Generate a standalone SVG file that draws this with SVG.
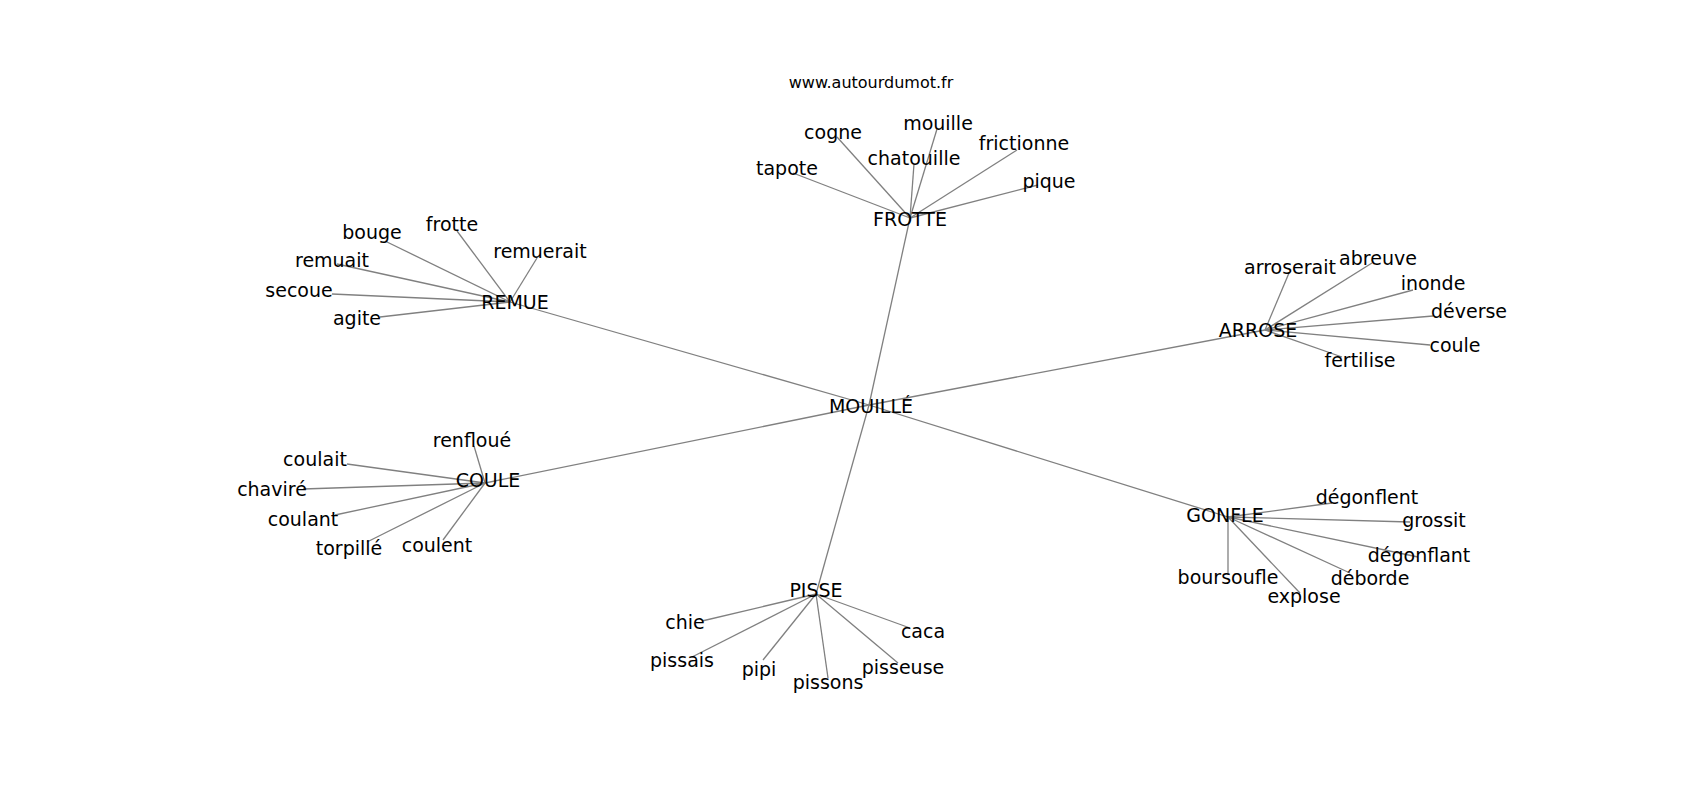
<svg xmlns="http://www.w3.org/2000/svg" width="1700" height="800" viewBox="0 0 1700 800">
<style>
text{font-family:"DejaVu Sans",sans-serif;font-size:19px;fill:#000;text-anchor:middle}
.e line{stroke:#808080;stroke-width:1.3;fill:none}
.t{font-size:16px}
</style>
<rect width="1700" height="800" fill="#fff"/>
<text class="t" x="871" y="88">www.autourdumot.fr</text>
<g class="e" id="edges">
<line x1="910" y1="218" x2="869" y2="405"/>
<line x1="869" y1="405" x2="816" y2="594"/>
<line x1="510" y1="302" x2="869" y2="405"/>
<line x1="1265" y1="330" x2="869" y2="405"/>
<line x1="485" y1="483" x2="869" y2="405"/>
<line x1="1228" y1="517" x2="869" y2="405"/>
<line x1="910" y1="218" x2="793" y2="173"/>
<line x1="910" y1="218" x2="837" y2="137"/>
<line x1="910" y1="218" x2="937" y2="129"/>
<line x1="910" y1="218" x2="914" y2="164"/>
<line x1="910" y1="218" x2="1017" y2="150"/>
<line x1="910" y1="218" x2="1038" y2="185"/>
<line x1="510" y1="302" x2="385" y2="241"/>
<line x1="510" y1="302" x2="457" y2="231"/>
<line x1="510" y1="302" x2="537" y2="258"/>
<line x1="510" y1="302" x2="337" y2="264"/>
<line x1="510" y1="302" x2="332" y2="294"/>
<line x1="510" y1="302" x2="380" y2="317"/>
<line x1="1265" y1="330" x2="1289" y2="273"/>
<line x1="1265" y1="330" x2="1372" y2="263"/>
<line x1="1265" y1="330" x2="1413" y2="290"/>
<line x1="1265" y1="330" x2="1433" y2="316"/>
<line x1="1265" y1="330" x2="1430" y2="345"/>
<line x1="1265" y1="330" x2="1342" y2="357"/>
<line x1="485" y1="483" x2="474" y2="446"/>
<line x1="485" y1="483" x2="347" y2="464"/>
<line x1="485" y1="483" x2="303" y2="489"/>
<line x1="485" y1="483" x2="335" y2="515"/>
<line x1="485" y1="483" x2="367" y2="542"/>
<line x1="485" y1="483" x2="443" y2="540"/>
<line x1="1228" y1="517" x2="1332" y2="503"/>
<line x1="1228" y1="517" x2="1410" y2="522"/>
<line x1="1228" y1="517" x2="1418" y2="557"/>
<line x1="1228" y1="517" x2="1350" y2="573"/>
<line x1="1228" y1="517" x2="1300" y2="593"/>
<line x1="1228" y1="517" x2="1228" y2="575"/>
<line x1="816" y1="594" x2="702" y2="621"/>
<line x1="816" y1="594" x2="692" y2="657"/>
<line x1="816" y1="594" x2="763" y2="660"/>
<line x1="816" y1="594" x2="828" y2="678"/>
<line x1="816" y1="594" x2="898" y2="663"/>
<line x1="816" y1="594" x2="910" y2="628"/>
</g>
<g id="n-mouille"><text x="871" y="413">MOUILLÉ</text></g>
<g id="n-frotte"><text x="910" y="226">FROTTE</text></g>
<g id="n-remue"><text x="515" y="309">REMUE</text></g>
<g id="n-arrose"><text x="1258" y="337">ARROSE</text></g>
<g id="n-coule"><text x="488" y="487">COULE</text></g>
<g id="n-gonfle"><text x="1225" y="522">GONFLE</text></g>
<g id="n-pisse"><text x="816" y="597">PISSE</text></g>
<g id="n-tapote"><text x="787" y="175">tapote</text></g>
<g id="n-cogne"><text x="833" y="139">cogne</text></g>
<g id="n-mouille2"><text x="938" y="130">mouille</text></g>
<g id="n-chatouille"><text x="914" y="165">chatouille</text></g>
<g id="n-frictionne"><text x="1024" y="150">frictionne</text></g>
<g id="n-pique"><text x="1049" y="188">pique</text></g>
<g id="n-bouge"><text x="372" y="239">bouge</text></g>
<g id="n-frotte2"><text x="452" y="231">frotte</text></g>
<g id="n-remuerait"><text x="540" y="258">remuerait</text></g>
<g id="n-remuait"><text x="332" y="267">remuait</text></g>
<g id="n-secoue"><text x="299" y="297">secoue</text></g>
<g id="n-agite"><text x="357" y="325">agite</text></g>
<g id="n-arroserait"><text x="1290" y="274">arroserait</text></g>
<g id="n-abreuve"><text x="1378" y="265">abreuve</text></g>
<g id="n-inonde"><text x="1433" y="290">inonde</text></g>
<g id="n-deverse"><text x="1469" y="318">déverse</text></g>
<g id="n-coule2"><text x="1455" y="352">coule</text></g>
<g id="n-fertilise"><text x="1360" y="367">fertilise</text></g>
<g id="n-renfloue"><text x="472" y="447">renfloué</text></g>
<g id="n-coulait"><text x="315" y="466">coulait</text></g>
<g id="n-chavire"><text x="272" y="496">chaviré</text></g>
<g id="n-coulant"><text x="303" y="526">coulant</text></g>
<g id="n-torpille"><text x="349" y="555">torpillé</text></g>
<g id="n-coulent"><text x="437" y="552">coulent</text></g>
<g id="n-degonflent"><text x="1367" y="504">dégonflent</text></g>
<g id="n-grossit"><text x="1434" y="527">grossit</text></g>
<g id="n-degonflant"><text x="1419" y="562">dégonflant</text></g>
<g id="n-deborde"><text x="1370" y="585">déborde</text></g>
<g id="n-explose"><text x="1304" y="603">explose</text></g>
<g id="n-boursoufle"><text x="1228" y="584">boursoufle</text></g>
<g id="n-chie"><text x="685" y="629">chie</text></g>
<g id="n-pissais"><text x="682" y="667">pissais</text></g>
<g id="n-pipi"><text x="759" y="676">pipi</text></g>
<g id="n-pissons"><text x="828" y="689">pissons</text></g>
<g id="n-pisseuse"><text x="903" y="674">pisseuse</text></g>
<g id="n-caca"><text x="923" y="638">caca</text></g>
</svg>
